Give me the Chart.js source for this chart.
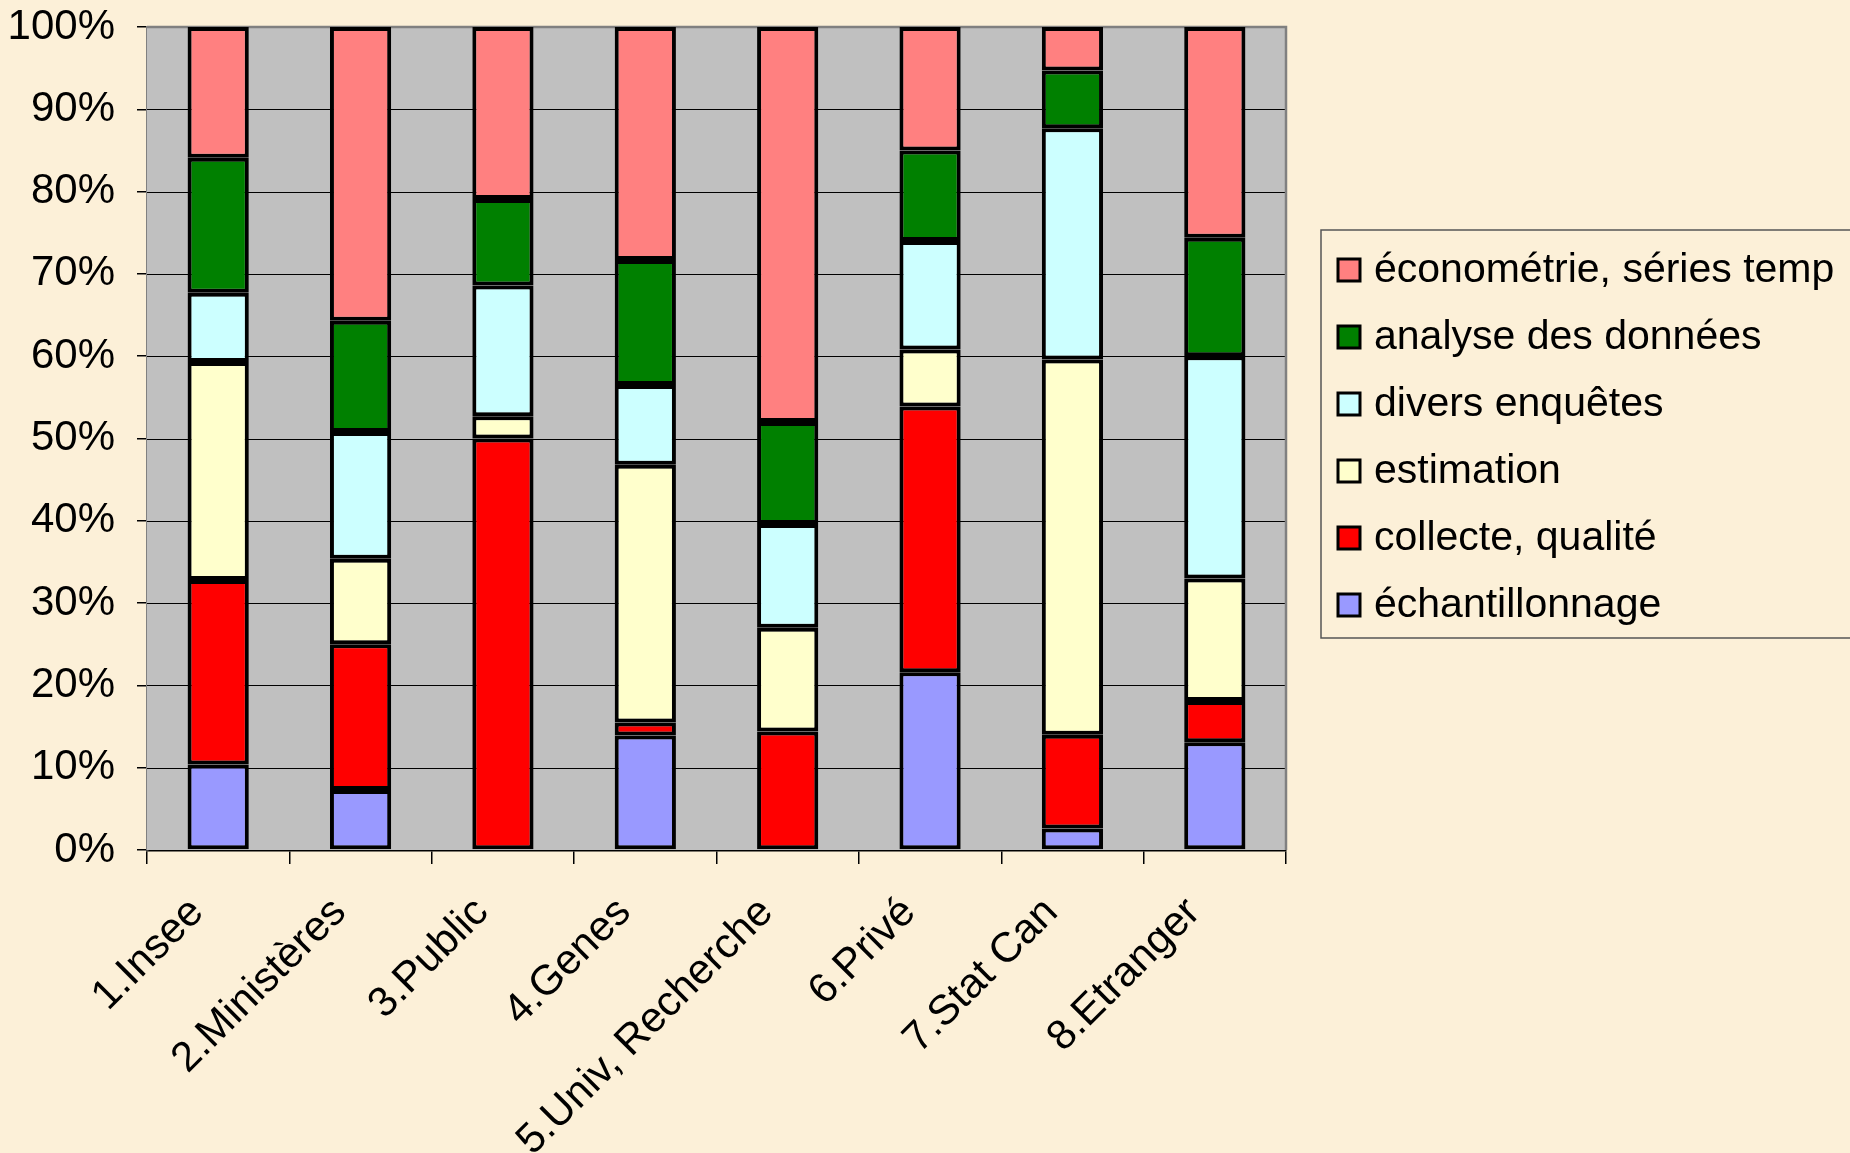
<!DOCTYPE html>
<html lang="fr">
<head>
<meta charset="utf-8">
<title>Domaines par employeur</title>
<script src="https://cdn.jsdelivr.net/npm/chart.js@4/dist/chart.umd.min.js"></script>
<style>
  html, body { margin: 0; padding: 0; background: #fcf0d8; overflow: hidden; }
  #cadre { position: relative; width: 1850px; height: 1153px; }
</style>
</head>
<body>
<div id="cadre"><canvas id="graphique"></canvas></div>
<script>
// Données (en % de chaque employeur)
const categories = ['1.Insee', '2.Ministères', '3.Public', '4.Genes', '5.Univ, Recherche', '6.Privé', '7.Stat Can', '8.Etranger'];
const echantillonnage = [10.4, 7.3, 0, 13.9, 0, 21.6, 2.6, 13.1];
const collecte = [22.4, 17.7, 50, 1.6, 14.4, 32.3, 11.4, 5];
const estimation = [26.5, 10.4, 2.7, 31.3, 12.6, 6.9, 45.6, 14.9];
const divers = [8.4, 15.4, 15.9, 9.7, 12.6, 13.2, 28.1, 27];
const analyse = [16.4, 13.5, 10.5, 15.2, 12.4, 11, 7, 14.4];
const econometrie = [15.9, 35.7, 20.9, 28.3, 48, 15, 5.3, 25.6];
const graduations = [0, 10, 20, 30, 40, 50, 60, 70, 80, 90, 100];

Chart.defaults.font.family = "'Liberation Sans', Arial, sans-serif";
Chart.defaults.color = '#000';

function serie(nom, valeurs, couleur) {
    return {
        label: nom,
        data: valeurs,
        backgroundColor: couleur,
        borderColor: '#000',
        borderWidth: 4,
        borderSkipped: false,
        categoryPercentage: 1,
        barPercentage: 0.43
    };
}

// Fond gris de la zone de tracé
const fondZone = {
    id: 'fondZone',
    beforeDatasetsDraw(chart) {
        const { ctx, chartArea: a } = chart;
        ctx.save();
        ctx.fillStyle = '#c0c0c0';
        ctx.fillRect(a.left, a.top, a.right - a.left, a.bottom - a.top);
        // lignes de la grille par-dessus le fond
        const y = chart.scales.y;
        ctx.strokeStyle = '#000';
        ctx.lineWidth = 1.2;
        graduations.forEach(v => {
            if (v === 0 || v === 100) return;
            const py = Math.round(y.getPixelForValue(v)) + 0.5;
            ctx.beginPath();
            ctx.moveTo(a.left, py);
            ctx.lineTo(a.right, py);
            ctx.stroke();
        });
        ctx.strokeStyle = '#808080';
        ctx.lineWidth = 2.5;
        ctx.beginPath();
        ctx.moveTo(a.left, a.top);
        ctx.lineTo(a.right, a.top);
        ctx.lineTo(a.right, a.bottom);
        ctx.stroke();
        ctx.restore();
    }
};

// Légende encadrée à droite
const legendeBoite = {
    id: 'legendeBoite',
    afterDraw(chart) {
        const ctx = chart.ctx;
        const x0 = 1321, y0 = 230, h = 408;
        ctx.save();
        ctx.fillStyle = '#fcf0d8';
        ctx.fillRect(x0, y0, 600, h);
        ctx.strokeStyle = '#555';
        ctx.lineWidth = 1.5;
        ctx.strokeRect(x0, y0, 600, h);
        ctx.font = "41px 'Liberation Sans', Arial, sans-serif";
        ctx.textBaseline = 'middle';
        const ds = chart.data.datasets.slice().reverse();
        ds.forEach((d, i) => {
            const cy = 270 + i * 67;
            ctx.fillStyle = d.backgroundColor;
            ctx.fillRect(1338, cy - 11, 22, 22);
            ctx.strokeStyle = '#000';
            ctx.lineWidth = 3;
            ctx.strokeRect(1338, cy - 11, 22, 22);
            ctx.fillStyle = '#000';
            ctx.fillText(d.label, 1374, cy + 1);
        });
        ctx.restore();
    }
};

new Chart(document.getElementById('graphique'), {
    type: 'bar',
    data: {
        labels: categories,
        datasets: [
            serie('échantillonnage', echantillonnage, '#9999ff'),
            serie('collecte, qualité', collecte, '#ff0000'),
            serie('estimation', estimation, '#ffffcc'),
            serie('divers enquêtes', divers, '#ccffff'),
            serie('analyse des données', analyse, '#008000'),
            serie('économétrie, séries temp', econometrie, '#ff8080')
        ]
    },
    options: {
        responsive: true,
        maintainAspectRatio: false,
        animation: false,
        layout: { padding: { top: 27, right: 564, left: 0, bottom: 0 } },
        plugins: {
            legend: { display: false },
            tooltip: { enabled: false }
        },
        scales: {
            x: {
                stacked: true,
                afterFit: s => { s.height = 303; },
                grid: { display: true, drawOnChartArea: false, color: '#000', lineWidth: 1.5, tickLength: 14 },
                border: { color: '#000', width: 2.5 },
                ticks: {
                    autoSkip: false,
                    minRotation: 45,
                    maxRotation: 45,
                    padding: 24,
                    labelOffset: -21,
                    font: { size: 42 }
                }
            },
            y: {
                stacked: true,
                min: 0,
                max: 100,
                afterFit: s => { s.width = 147; s.paddingTop = 0; s.paddingBottom = 0; },
                afterBuildTicks: s => { s.ticks = graduations.map(v => ({ value: v })); },
                grid: { drawOnChartArea: false, color: '#000', lineWidth: 1.5, tickLength: 10 },
                border: { color: '#808080', width: 2.5 },
                ticks: {
                    padding: 22,
                    font: { size: 42 },
                    callback: v => v + '%'
                }
            }
        }
    },
    plugins: [fondZone, legendeBoite]
});
</script>
</body>
</html>
